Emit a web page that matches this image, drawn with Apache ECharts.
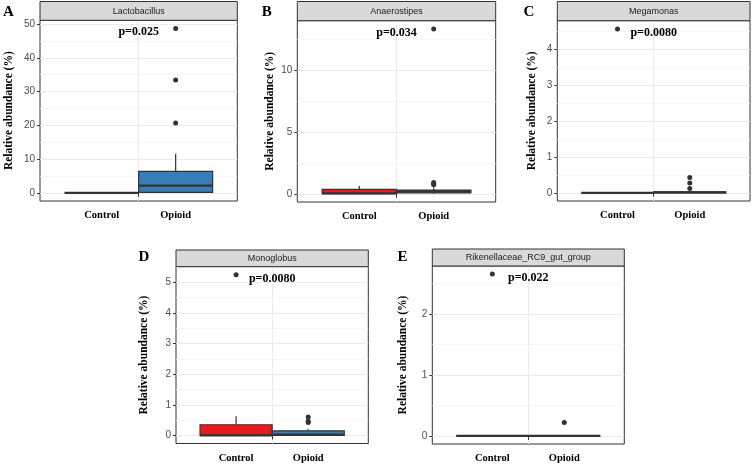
<!DOCTYPE html>
<html><head><meta charset="utf-8">
<script src="https://cdn.jsdelivr.net/npm/echarts@6/dist/echarts.min.js"></script>
<style>html,body{margin:0;padding:0;background:#fff}#c{width:755px;height:467px}</style>
</head><body><div id="c"></div>
<script>
// ---------------- data ----------------
const groups = ['Control', 'Opioid'];
const genera = ['Lactobacillus', 'Anaerostipes', 'Megamonas', 'Monoglobus', 'Rikenellaceae_RC9_gut_group'];
const panelLetters = ['A', 'B', 'C', 'D', 'E'];
const pLabels = ['p=0.025', 'p=0.034', 'p=0.0080', 'p=0.0080', 'p=0.022'];
const yAxisTitle = 'Relative abundance (%)';

// box statistics per group: [min, Q1, median, Q3, max]
const lactobacillusBox = [[0, 0, 0, 0, 0], [0, 0.1, 2.15, 6.35, 11.6]];
const anaerostipesBox = [[0, 0, 0.03, 0.35, 0.63], [0, 0.06, 0.17, 0.3, 0.5]];
const megamonasBox = [[0, 0, 0, 0, 0], [0, 0, 0.01, 0.03, 0.06]];
const monoglobusBox = [[0, 0, 0, 0.35, 0.63], [0, 0, 0.03, 0.15, 0.21]];
const rikenellaceaeBox = [[0, 0, 0, 0, 0], [0, 0, 0, 0, 0]];

// outliers: [group, value]
const lactobacillusOutliers = [['Opioid', 20.7], ['Opioid', 33.4], ['Opioid', 48.7]];
const anaerostipesOutliers = [['Opioid', 0.72], ['Opioid', 0.8], ['Opioid', 0.9], ['Opioid', 13.3]];
const megamonasOutliers = [['Control', 4.57], ['Opioid', 0.12], ['Opioid', 0.27], ['Opioid', 0.43]];
const monoglobusOutliers = [['Control', 5.24], ['Opioid', 0.42], ['Opioid', 0.46], ['Opioid', 0.6]];
const rikenellaceaeOutliers = [['Control', 2.65], ['Opioid', 0.22]];

// y tick labels (major) and minor grid values
const lactobacillusTicks = [0, 10, 20, 30, 40, 50];
const anaerostipesTicks = [0, 5, 10];
const megamonasTicks = [0, 1, 2, 3, 4];
const monoglobusTicks = [0, 1, 2, 3, 4, 5];
const rikenellaceaeTicks = [0, 1, 2];
const lactobacillusMinor = [5, 15, 25, 35, 45];
const anaerostipesMinor = [2.5, 7.5, 12.5];
const megamonasMinor = [0.5, 1.5, 2.5, 3.5, 4.5];
const monoglobusMinor = [0.5, 1.5, 2.5, 3.5, 4.5, 5.5];
const rikenellaceaeMinor = [0.5, 1.5, 2.5];

const boxes = [lactobacillusBox, anaerostipesBox, megamonasBox, monoglobusBox, rikenellaceaeBox];
const outliers = [lactobacillusOutliers, anaerostipesOutliers, megamonasOutliers, monoglobusOutliers, rikenellaceaeOutliers];
const ticks = [lactobacillusTicks, anaerostipesTicks, megamonasTicks, monoglobusTicks, rikenellaceaeTicks];
const minors = [lactobacillusMinor, anaerostipesMinor, megamonasMinor, monoglobusMinor, rikenellaceaeMinor];

// ---------------- layout / style ----------------
const groupColors = ['#E41A1C', '#377EB8'];
const layout = [
  { left: 40, top: 20.3, right: 237.3, bottom: 201, stripTop: 1.5, nameGap: 25, letter: [8.3, 12.5] },
  { left: 297.3, top: 20.7, right: 495.7, bottom: 202, stripTop: 1.5, nameGap: 21, letter: [266.7, 12.5] },
  { left: 557.3, top: 20.7, right: 750, bottom: 201, stripTop: 1.5, nameGap: 19.5, letter: [529, 12.5] },
  { left: 176, top: 266.7, right: 368.3, bottom: 443.5, stripTop: 250, nameGap: 26, letter: [144, 257] },
  { left: 432.3, top: 266, right: 624.3, bottom: 444, stripTop: 249, nameGap: 23, letter: [402.5, 257] }
];
const SERIF = '"Liberation Serif","Times New Roman",serif';
const SANS = '"Liberation Sans",Arial,sans-serif';

function renderBox(params, api) {
  const cat = api.value(0);
  const mn = api.value(1), q1 = api.value(2), md = api.value(3), q3 = api.value(4), mx = api.value(5);
  const bw = api.size([1, 0])[0];
  const pMn = api.coord([cat, mn]), pQ1 = api.coord([cat, q1]), pMd = api.coord([cat, md]);
  const pQ3 = api.coord([cat, q3]), pMx = api.coord([cat, mx]);
  const x0 = pQ1[0] - bw / 2;
  const col = api.visual('color');
  return {
    type: 'group',
    children: [
      { type: 'line', shape: { x1: pQ3[0], y1: pQ3[1], x2: pMx[0], y2: pMx[1] }, style: { stroke: '#333', lineWidth: 1.2 } },
      { type: 'line', shape: { x1: pQ1[0], y1: pQ1[1], x2: pMn[0], y2: pMn[1] }, style: { stroke: '#333', lineWidth: 1.2 } },
      { type: 'rect', shape: { x: x0, y: pQ3[1], width: bw, height: pQ1[1] - pQ3[1] }, style: { fill: col, stroke: '#333', lineWidth: 1.2 } },
      { type: 'line', shape: { x1: x0, y1: pMd[1], x2: x0 + bw, y2: pMd[1] }, style: { stroke: '#333', lineWidth: 2.2 } }
    ]
  };
}

const grid = [], xAxis = [], yAxis = [], series = [], graphic = [];
layout.forEach((L, i) => {
  const W = L.right - L.left, H = L.bottom - L.top;
  const allVals = boxes[i].flat().concat(outliers[i].map(o => o[1]));
  const dMax = Math.max(...allVals), dMin = Math.min(...allVals);
  const yMin = dMin - 0.05 * (dMax - dMin), yMax = dMax + 0.05 * (dMax - dMin);
  const og = grid.length;
  grid.push({ left: L.left, top: L.top, width: W, height: H, show: true, borderColor: '#333', borderWidth: 1, backgroundColor: '#fff', outerBoundsMode: 'none', containLabel: false });
  grid.push({ left: L.left + W / 8, top: L.top, width: W * 0.75, height: H, show: false, outerBoundsMode: 'none', containLabel: false });
  const ox = xAxis.length;
  xAxis.push({ gridIndex: og, type: 'value', min: 0, max: 2, axisLine: { show: false }, axisLabel: { show: false },
    axisTick: { show: true, customValues: [1], length: 4, lineStyle: { color: '#333' } },
    splitLine: { show: true, lineStyle: { color: '#EBEBEB', width: 1 } } });
  xAxis.push({ gridIndex: og + 1, type: 'category', data: groups, boundaryGap: true,
    axisLine: { show: false }, axisTick: { show: false }, splitLine: { show: false },
    axisLabel: { margin: 9, fontFamily: SERIF, fontWeight: 'bold', fontSize: 10.5, color: '#000' } });
  const oy = yAxis.length;
  yAxis.push({ gridIndex: og, type: 'value', min: yMin, max: yMax, position: 'left',
    name: yAxisTitle, nameLocation: 'middle', nameGap: L.nameGap,
    nameTextStyle: { fontFamily: SERIF, fontWeight: 'bold', fontSize: 11.5, color: '#000' },
    axisLine: { show: false },
    axisTick: { show: true, customValues: ticks[i], length: 3, lineStyle: { color: '#333' } },
    axisLabel: { customValues: ticks[i], fontFamily: SANS, fontSize: 10, color: '#4D4D4D', margin: 5 },
    splitLine: { show: true, lineStyle: { color: '#EBEBEB', width: 1 } } });
  yAxis.push({ gridIndex: og, type: 'value', min: yMin, max: yMax, position: 'left',
    axisLine: { show: false }, axisLabel: { show: false },
    axisTick: { show: false, customValues: minors[i].filter(v => v < yMax) },
    splitLine: { show: true, lineStyle: { color: '#F4F4F4', width: 0.8 } } });
  yAxis.push({ gridIndex: og + 1, type: 'value', min: yMin, max: yMax, show: false });

  series.push({
    type: 'custom', xAxisIndex: ox + 1, yAxisIndex: oy + 2, renderItem: renderBox, z: 3,
    encode: { x: 0, y: [1, 2, 3, 4, 5] },
    data: boxes[i].map((b, g) => ({ value: [g].concat(b), itemStyle: { color: groupColors[g] } }))
  });
  series.push({
    type: 'scatter', xAxisIndex: ox + 1, yAxisIndex: oy + 2, z: 4, symbolSize: 5,
    itemStyle: { color: '#333', opacity: 1 }, data: outliers[i]
  });

  const cx = (L.left + L.right) / 2;
  graphic.push({ type: 'rect', shape: { x: L.left, y: L.stripTop, width: W, height: L.top - L.stripTop },
    style: { fill: '#D9D9D9', stroke: '#333', lineWidth: 1 }, z: 10 });
  graphic.push({ type: 'text', x: cx, y: (L.stripTop + L.top) / 2 + 0.5, z: 11,
    style: { text: genera[i], fill: '#1A1A1A', font: '9px ' + SANS, align: 'center', verticalAlign: 'middle', textAlign: 'center', textVerticalAlign: 'middle' } });
  graphic.push({ type: 'text', x: cx, y: L.top + 12, z: 11,
    style: { text: pLabels[i], fill: '#000', font: 'bold 12px ' + SERIF, align: 'center', verticalAlign: 'middle', textAlign: 'center', textVerticalAlign: 'middle' } });
  graphic.push({ type: 'text', x: L.letter[0], y: L.letter[1], z: 11,
    style: { text: panelLetters[i], fill: '#000', font: 'bold 15px ' + SERIF, align: 'center', verticalAlign: 'middle', textAlign: 'center', textVerticalAlign: 'middle' } });
});

const chart = echarts.init(document.getElementById('c'), null, { renderer: 'canvas' });
chart.setOption({ animation: false, backgroundColor: '#fff', grid, xAxis, yAxis, series, graphic });
</script>
</body></html>
